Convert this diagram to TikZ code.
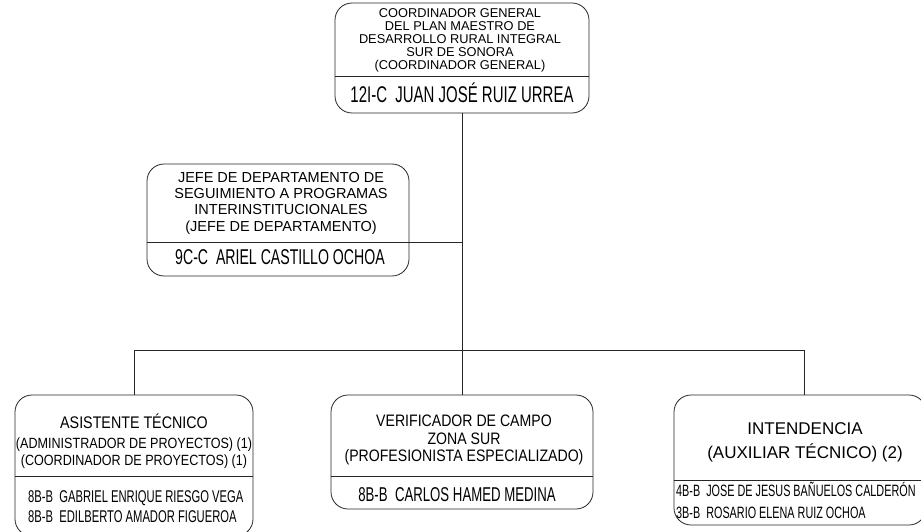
\documentclass[tikz,border=0pt]{standalone}
\usepackage{fontspec}
\setmainfont{Liberation Sans}
\newfontfamily\narrowfont[FakeStretch=0.66]{Liberation Sans}
\newfontfamily\semifont[FakeStretch=0.85]{Liberation Sans}
\usetikzlibrary{positioning}

\tikzset{
  box/.style={draw=black!85, line width=.8pt, rounded corners=17pt, inner sep=0pt},
  txt/.style={anchor=base, inner sep=0pt},
  nm/.style={anchor=base west, inner sep=0pt, font=\narrowfont\fontsize{17}{17}\selectfont},
  link/.style={draw=black!85, line width=.8pt}
}

\begin{document}
\begin{tikzpicture}[x=1pt,y=-1pt]
  \useasboundingbox (0,0) rectangle (921,532);

  % boxes
  \node[box, minimum width=254pt, minimum height=110pt] (top) at (462,58) {};
  \node[box, minimum width=262pt, minimum height=112pt] (jefe) at (278,220) {};
  \node[box, minimum width=238pt, minimum height=141pt] (asis) at (134,465.5) {};
  \node[box, minimum width=262pt, minimum height=114pt] (verif) at (462,452) {};
  \node[box, minimum width=252pt, minimum height=130pt] (inten) at (800,460) {};

  % dividers
  \coordinate (d-top) at (0,76);
  \coordinate (d-jefe) at (0,242);
  \coordinate (d-low) at (0,476);
  \coordinate (d-inten) at (0,480);
  \draw[link] (top.west |- d-top) -- (top.east |- d-top);
  \draw[link] (jefe.west |- d-jefe) -- (top.south |- d-jefe);
  \draw[link] (asis.west |- d-low) -- (asis.east |- d-low);
  \draw[link] (verif.west |- d-low) -- (verif.east |- d-low);
  \draw[link] (inten.west |- d-inten) -- (inten.east |- d-inten);

  % connectors
  \coordinate (jr) at (804,350);
  \draw[link] (top.south) -- (verif.north);
  \draw[link] (asis.north) |- (jr) -- (jr |- inten.north);

  % titles
  \foreach \t [count=\i] in {COORDINADOR GENERAL, DEL PLAN MAESTRO DE, DESARROLLO RURAL INTEGRAL, SUR DE SONORA, {(COORDINADOR GENERAL)}}
    \node[txt, font=\fontsize{12.8}{13}\selectfont] (top-t\i) at (460,{17.6+13*(\i-1)}) {\t};
  \foreach \t [count=\i] in {JEFE DE DEPARTAMENTO DE, SEGUIMIENTO A PROGRAMAS, INTERINSTITUCIONALES, {(JEFE DE DEPARTAMENTO)}}
    \node[txt, font=\fontsize{14.5}{15}\selectfont] (jefe-t\i) at (281,{182.2+16.3*(\i-1)}) {\t};
  \node[txt, font=\semifont\fontsize{16.8}{17}\selectfont] (asis-t1) at (134,428) {ASISTENTE TÉCNICO};
  \foreach \t [count=\i] in {{(ADMINISTRADOR DE PROYECTOS) (1)}, {(COORDINADOR DE PROYECTOS) (1)}}
    \node[txt, font=\semifont\fontsize{14.8}{15}\selectfont] (asis-t\i b) at (134,{448.3+17*(\i-1)}) {\t};
  \foreach \t [count=\i] in {VERIFICADOR DE CAMPO, ZONA SUR, {(PROFESIONISTA ESPECIALIZADO)}}
    \node[txt, font=\semifont\fontsize{16.6}{17}\selectfont] (verif-t\i) at (464,{426.6+17.5*(\i-1)}) {\t};
  \node[txt, font=\fontsize{17}{17}\selectfont] (inten-t1) at (805,434.1) {INTENDENCIA};
  \node[txt, font=\fontsize{17}{17}\selectfont] (inten-t2) at (805,458.1) {(AUXILIAR TÉCNICO) (2)};

  % names
  \node[txt, font=\narrowfont\fontsize{22.7}{23}\selectfont] (top-n) at (462,103) {12I-C~~JUAN JOSÉ RUIZ URREA};
  \node[txt, font=\narrowfont\fontsize{21.4}{22}\selectfont] (jefe-n) at (280,264.7) {9C-C~~ARIEL CASTILLO OCHOA};
  \node[nm] (asis-n1) at (28,502.8) {8B-B~~GABRIEL ENRIQUE RIESGO VEGA};
  \node[nm] (asis-n2) at (28,522.8) {8B-B~~EDILBERTO AMADOR FIGUEROA};
  \node[txt, font=\narrowfont\fontsize{20}{20}\selectfont] (verif-n) at (457,501) {8B-B~~CARLOS HAMED MEDINA};
  \node[nm, font=\narrowfont\fontsize{16.4}{17}\selectfont] (inten-n1) at (676,496) {4B-B~~JOSE DE JESUS BAÑUELOS CALDERÓN};
  \node[nm, font=\narrowfont\fontsize{16.4}{17}\selectfont] (inten-n2) at (676,518) {3B-B~~ROSARIO ELENA RUIZ OCHOA};
\end{tikzpicture}
\end{document}
